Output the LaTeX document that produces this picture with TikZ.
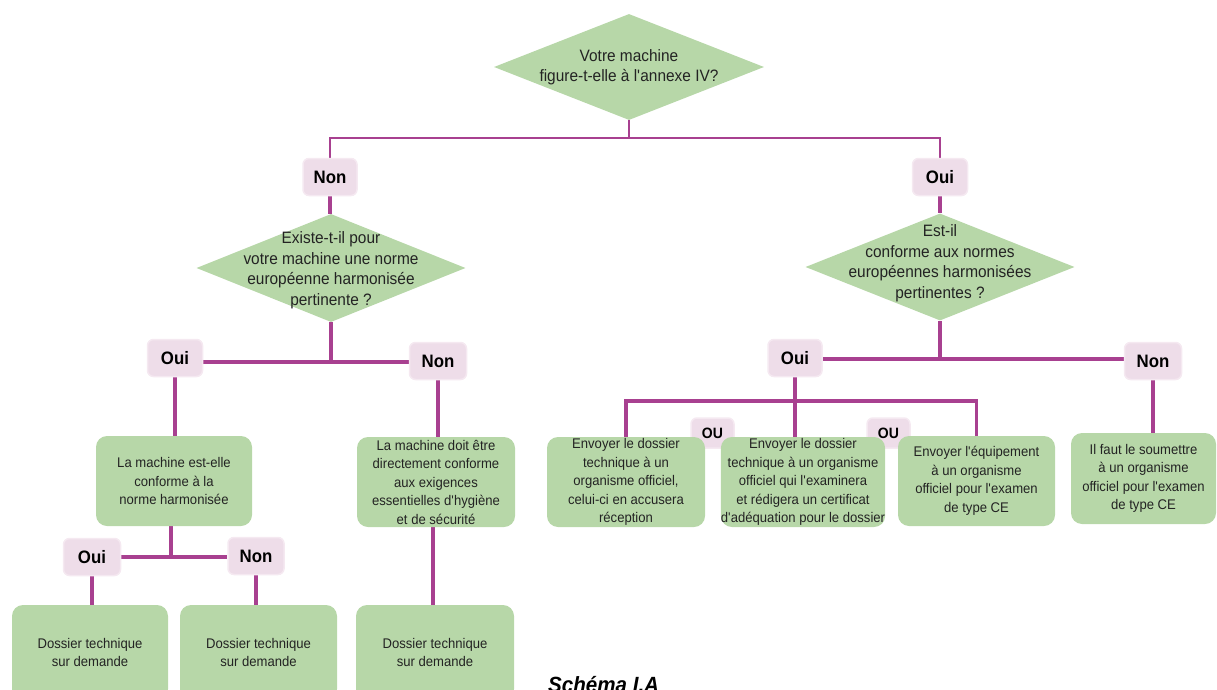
\documentclass[tikz,border=0pt]{standalone}
\usepackage{fontspec}
\setmainfont{Liberation Sans}[FakeStretch=0.935]
\usetikzlibrary{shapes.geometric}
\definecolor{gfill}{RGB}{183,215,168}
\definecolor{pfill}{RGB}{238,221,233}
\definecolor{pedge}{RGB}{245,233,241}
\definecolor{lcol}{RGB}{168,64,144}
\definecolor{tcol}{RGB}{35,35,35}
\newcommand\qq{\textquotesingle}
\pgfdeclarelayer{bg}
\pgfsetlayers{bg,main}
\begin{document}
\begin{tikzpicture}[x=1pt,y=-1pt,
 dia/.style={diamond, fill=gfill, draw=none, inner sep=0pt},
 dtext/.style={align=center, text=tcol, font=\fontsize{16.5}{20.5}\selectfont, inner sep=0pt},
 box/.style={rounded corners=11pt, fill=gfill, align=center, text=tcol, font=\fontsize{14}{18.5}\selectfont, inner sep=0pt},
 lab/.style={rounded corners=6pt, fill=pfill, draw=pedge, line width=1.5pt, text=black, font=\bfseries\fontsize{18}{20}\selectfont, minimum width=55pt, minimum height=37pt, inner sep=0pt},
 oulab/.style={lab, font=\bfseries\fontsize{15}{17}\selectfont, minimum width=43pt, minimum height=30pt},
 conn/.style={draw=lcol, line width=3.2pt},
]
\useasboundingbox (0,0) rectangle (1217,690);
\clip (0,0) rectangle (1217,690);

% diamonds
\node[dia, minimum width=270pt, minimum height=106pt] (d0) at (629,67) {};
\node[dtext] (t0) at (629,67) {Votre machine\\figure-t-elle à l\qq annexe IV?};
\node[dia, minimum width=269pt, minimum height=108pt] (d1) at (331,268) {};
\node[dtext] (t1) at (331,270) {Existe-t-il pour\\votre machine une norme\\européenne harmonisée\\pertinente ?};
\node[dia, minimum width=269pt, minimum height=107pt] (d2) at (940,267) {};
\node[dtext] (t2) at (940,263) {Est-il\\conforme aux normes\\européennes harmonisées\\pertinentes ?};

% labels
\node[lab, minimum width=54pt] (non1) at (330,177) {Non};
\node[lab] (oui1) at (940,177) {Oui};
\node[lab] (oui2) at (175,358) {Oui};
\node[lab, minimum width=57pt] (non2) at (438,361) {Non};
\node[lab, minimum width=57pt] (oui3) at (92,557) {Oui};
\node[lab, minimum width=56pt] (non3) at (256,556) {Non};
\node[lab, minimum width=54pt] (oui4) at (795,358) {Oui};
\node[lab, minimum width=57pt] (non4) at (1153,361) {Non};
\node[oulab] (ou1) at (712.5,433) {OU};
\node[oulab] (ou2) at (888.5,433) {OU};

% boxes
\node[box, minimum width=156pt, minimum height=90pt] (bL) at (174,481) {La machine est-elle\\conforme à la\\norme harmonisée};
\node[box, minimum width=158pt, minimum height=90pt] (bM) at (436,482) {La machine doit être\\directement conforme\\aux exigences\\essentielles d\qq hygiène\\et de sécurité};
\node[box, minimum width=156pt, minimum height=95pt] (D1) at (90,652.5) {Dossier technique\\sur demande};
\node[box, minimum width=157pt, minimum height=95pt] (D2) at (258.5,652.5) {Dossier technique\\sur demande};
\node[box, minimum width=158pt, minimum height=95pt] (D3) at (435,652.5) {Dossier technique\\sur demande};
\node[box, minimum width=158pt, minimum height=90pt] (E1) at (626,482) {Envoyer le dossier\\technique à un\\organisme officiel,\\celui-ci en accusera\\réception};
\node[box, minimum width=158pt, minimum height=90pt] (E2) at (803,482) {Envoyer le dossier\\technique à un organisme\\officiel qui l\qq examinera\\et rédigera un certificat\\d\qq adéquation pour le dossier};
\node[box, minimum width=157pt, minimum height=90pt] (E3) at (976.5,481) {Envoyer l\qq équipement\\à un organisme\\officiel pour l\qq examen\\de type CE};
\node[box, minimum width=145pt, minimum height=91pt] (E4) at (1143.5,478.5) {Il faut le soumettre\\à un organisme\\officiel pour l\qq examen\\de type CE};

\node[anchor=base west, inner sep=0pt, text=black, font=\bfseries\itshape\fontsize{22}{24}\selectfont] (cap) at (548,692) {Schéma I.A};

% junction points
\coordinate (j0) at (629,138);
\coordinate (j1) at (331,362);
\coordinate (j2) at (171,557);
\coordinate (j3) at (940,359);
\coordinate (j4) at (795,401);

\begin{pgfonlayer}{bg}
\draw[conn, line width=2.6pt] (d0.south) -- (j0);
\draw[conn, line width=2.6pt] (non1.north) -- (non1.north |- j0) -- (oui1.north |- j0) -- (oui1.north);
\draw[conn] (non1.south) -- (non1.south |- d1.north);
\draw[conn] (oui1.south) -- (oui1.south |- d2.north);
% left branch
\draw[conn] (d1.south) -- (j1);
\draw[conn] (oui2.east |- j1) -- (non2.west |- j1);
\draw[conn] (oui2.south) -- (oui2.south |- bL.north);
\draw[conn] (non2.south) -- (non2.south |- bM.north);
\draw[conn] (bL.south -| j2) -- (j2);
\draw[conn] (oui3.east |- j2) -- (non3.west |- j2);
\draw[conn] (oui3.south) -- (oui3.south |- D1.north);
\draw[conn] (non3.south) -- (non3.south |- D2.north);
\draw[conn] ([xshift=-3pt]bM.south) -- ([xshift=-3pt]bM.south |- D3.north);
% right branch
\draw[conn] (d2.south) -- (j3);
\draw[conn] (oui4.east |- j3) -- (non4.west |- j3);
\draw[conn] (non4.south) -- (non4.south |- E4.north);
\draw[conn] (oui4.south) -- (oui4.south |- E2.north);
\draw[conn] (E1.north) |- (j4) -| (E3.north);
\end{pgfonlayer}
\end{tikzpicture}
\end{document}
